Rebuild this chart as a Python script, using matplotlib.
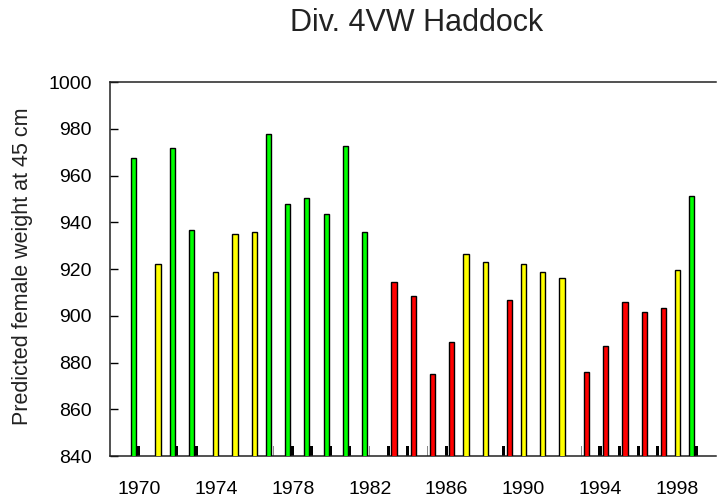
import numpy as np
import matplotlib
matplotlib.use("Agg")
import matplotlib.pyplot as plt

plt.rcParams['font.family'] = ['Liberation Sans', 'DejaVu Sans']

# predicted female weight at 45 cm, one bar per year, colour group
years = list(range(1970, 2000))
weight = [967.4, 922.1, 971.6, 936.7, 918.7, 935.0, 935.8, 977.8, 947.7, 950.2,
          943.4, 972.6, 935.7, 914.3, 908.3, 874.9, 888.6, 926.3, 922.9, 906.6,
          922.0, 918.6, 916.0, 875.8, 886.9, 905.8, 901.5, 903.2, 919.4, 951.1]
group = ['G', 'Y', 'G', 'G', 'Y', 'Y', 'Y', 'G', 'G', 'G',
         'G', 'G', 'G', 'R', 'R', 'R', 'R', 'Y', 'Y', 'R',
         'Y', 'Y', 'Y', 'R', 'R', 'R', 'R', 'R', 'Y', 'G']
# small stubs sitting on the baseline (b = black, g = thin grey, '' = none)
stub_kind = ['b', '', 'b', 'b', '', '', '', 'g', 'b', 'b',
             'b', 'b', 'g', 'b', 'b', 'g', 'b', '', '', 'b',
             '', '', '', 'g', 'b', 'b', 'b', 'b', '', 'b']
stub_value = 844.3

xticks = [1970, 1974, 1978, 1982, 1986, 1990, 1994, 1998]
yticks = list(range(840, 1001, 20))

x = np.array(years, dtype=float)
w = np.array(weight)
grp = np.array(group)

fig = plt.figure(figsize=(7.18, 4.98), dpi=100)
ax = fig.add_axes([110/718, 42/498, 606/718, 374/498])

# baseline stubs
for kind, col, wid, off in [('b', 'black', 0.16, -0.03), ('g', '#8a8a8a', 0.06, 0.0)]:
    m = np.array([k == kind for k in stub_kind])
    ax.bar(x[m] + off, np.full(m.sum(), stub_value), width=wid, color=col,
           linewidth=0, zorder=2)

# grouped bars: green / yellow / red slots
slot = 0.265
for code, off, col in [('G', -slot, '#00ff00'), ('Y', 0.0, '#ffff00'), ('R', slot, '#ff0000')]:
    m = grp == code
    ax.bar(x[m] + off, w[m], width=0.27, color=col, edgecolor='black',
           linewidth=1.0, zorder=3)

ax.set_xlim(1968.5, 2000)
ax.set_ylim(840, 1000)
ax.set_yticks(yticks)
ax.set_xticks(xticks)
ax.tick_params(axis='y', direction='in', length=6, width=1, pad=13, labelsize=14)
ax.tick_params(axis='x', length=0, pad=18, labelsize=14)

ax.spines['right'].set_visible(False)
for s in ['left', 'bottom', 'top']:
    ax.spines[s].set_linewidth(1.1)
    ax.spines[s].set_color('#222222')

fig.text(417/718, 1 - 23/498, 'Div. 4VW Haddock', ha='center', va='center',
         fontsize=22, color='#222222')
fig.text(23/718, 1 - 266/498, 'Predicted female weight at 45 cm', rotation=90,
         ha='center', va='center', fontsize=15.5, color='#222222')

fig.savefig('out.png', dpi=100)
